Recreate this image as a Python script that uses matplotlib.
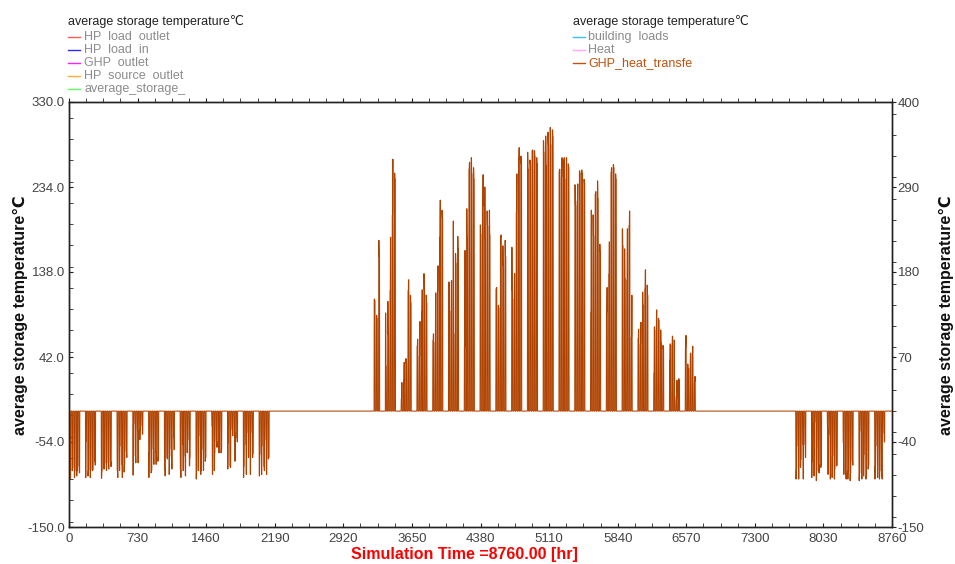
import numpy as np
import matplotlib
matplotlib.use("Agg")
import matplotlib.pyplot as plt
from matplotlib.lines import Line2D
from matplotlib.ticker import MultipleLocator, FixedLocator, FuncFormatter

plt.rcParams["font.family"] = ["Liberation Sans", "DejaVu Sans"]

# ---------------- data ----------------
x_ticks = [0, 730, 1460, 2190, 2920, 3650, 4380, 5110, 5840, 6570, 7300, 8030, 8760]
left_ticks = [330.0, 234.0, 138.0, 42.0, -54.0, -150.0]
right_ticks = [400, 290, 180, 70, -40, -150]

# first day (day of year) of each weekly cluster of operation
winter_early_days = [0, 7, 14, 21, 28, 35, 42, 49, 56, 63, 70, 77, 84]
winter_early_values = [
    [-86, -88, -77, -73, -86, -77, -84, -77, -71, -80],
    [-86, -39, -84, -77, -86, -76, -77, -75, -65, -70],
    [-87, -77, -75, -75, -67, -77, -67, -75, -65, -72],
    [-77, -86, -77, -45, -69, -86, -79, -69, -52, -60],
    [-83, -17, -58, -67, -26, -67, -37, -24, -19, -30],
    [-86, -54, -80, -77, -49, -69, -52, -69, -65, -60],
    [-75, -84, -60, -62, -82, -58, -49, -75, -34, -50],
    [-75, -86, -43, -77, -58, -84, -54, -37, -71, -60],
    [-88, -77, -77, -32, -82, -77, -49, -77, -65, -60],
    [-19, -82, -77, -54, -39, -47, -54, -54, -54, -50],
    [-75, -41, -71, -73, -24, -32, -28, -65, -34, -40],
    [-86, -71, -43, -82, -28, -60, -82, -28, -60, -55],
    [-84, -56, -82, -45, -71, -77, -37, -82, -62, -60],
]

summer_days = [135, 140, 147, 154, 161, 168, 175, 182, 189, 196, 203,
               210, 217, 224, 231, 238, 245, 252, 259, 266, 273]
summer_values = [
    [145, 143, 124, 120, 221, 200],
    [127, 58, 142, 99, 156, 225, 254, 326, 308, 300],
    [16, 37, 40, 63, 68, 62, 156, 170, 150, 140],
    [84, 93, 71, 116, 129, 157, 178, 157, 150, 140],
    [91, 100, 89, 153, 155, 188, 225, 273, 260, 250],
    [167, 167, 129, 169, 246, 100, 204, 191, 226, 210],
    [83, 208, 262, 226, 313, 322, 328, 307, 315, 300],
    [241, 229, 265, 306, 290, 223, 259, 240, 260, 228],
    [158, 160, 137, 133, 225, 228, 214, 188, 221, 200],
    [212, 156, 145, 178, 257, 307, 326, 341, 330, 320],
    [335, 313, 325, 320, 337, 338, 337, 330, 328, 320],
    [350, 335, 356, 318, 361, 345, 367, 345, 364, 355],
    [311, 313, 303, 328, 325, 328, 300, 328, 320, 315],
    [293, 266, 272, 294, 311, 308, 312, 307, 300, 295],
    [128, 260, 254, 227, 281, 284, 298, 275, 216, 206],
    [128, 160, 177, 219, 309, 315, 319, 315, 307, 300],
    [236, 214, 210, 171, 169, 236, 240, 259, 96, 150],
    [94, 106, 87, 115, 154, 137, 158, 183, 163, 150],
    [49, 109, 105, 131, 120, 117, 105, 88, 85, 80],
    [66, 87, 85, 97, 92, 19, 16, 40, 42, 40],
    [82, 98, 61, 55, 55, 75, 74, 84, 38, 45],
]

winter_late_days = [322, 329, 336, 343, 350, 357]
winter_late_values = [
    [-88, -75, -45, -88, -73, -62, -43, -88, -43, -60],
    [-86, -65, -84, -15, -90, -77, -69, -80, -73, -70],
    [-22, -82, -30, -88, -86, -58, -88, -75, -71, -70],
    [-41, -82, -80, -88, -88, -77, -90, -80, -65, -70],
    [-90, -80, -26, -88, -84, -56, -88, -84, -75, -70],
    [-88, -71, -45, -86, -88, -77, -84, -88, -28, -40],
]

legend_left = ["HP  load  outlet", "HP  load  in", "GHP  outlet",
               "HP  source  outlet", "average_storage_"]
legend_left_colors = ["#FF5A5A", "#2A2AFF", "#FF1EFF", "#FFAA3A", "#5CFF5C"]
legend_right = ["building  loads", "Heat", "GHP_heat_transfe"]
legend_right_colors = ["#35C0FF", "#FFA8FF", "#C0520F"]

# ---------------- hourly series ----------------
hours = np.arange(8761)
ghp = np.zeros(8761)
for starts, groups in ((winter_early_days, winter_early_values),
                       (summer_days, summer_values),
                       (winter_late_days, winter_late_values)):
    for d0, vals in zip(starts, groups):
        for i in range(len(vals) // 2):
            h0 = (d0 + i) * 24
            ghp[h0 + 8:h0 + 13] = vals[2 * i]
            ghp[h0 + 13:h0 + 18] = vals[2 * i + 1]

# ---------------- figure ----------------
W, H = 955, 564
fig = plt.figure(figsize=(W / 100, H / 100), dpi=100)
L, R, T, B = 69, 892, 102, 527
ax = fig.add_axes([L / W, 1 - B / H, (R - L) / W, (B - T) / H])
ax2 = ax.twinx()

ax.set_xlim(0, 8760)
ax.set_ylim(-150, 330)
ax2.set_ylim(-150, 400)

line_color = "#B04200"
ax2.plot(hours, ghp, color=line_color, lw=0.75, solid_joinstyle="miter")

spine_c = "#222222"
for a in (ax, ax2):
    for s in a.spines.values():
        s.set_color(spine_c)
        s.set_linewidth(1.0)

tick_c = "#444444"
ax.xaxis.set_major_locator(FixedLocator(x_ticks))
ax.xaxis.set_minor_locator(MultipleLocator(182.5))
ax.yaxis.set_major_locator(FixedLocator(left_ticks))
ax.yaxis.set_minor_locator(MultipleLocator(24))
ax.yaxis.set_major_formatter(FuncFormatter(lambda v, p: f"{v:.1f}"))
ax.tick_params(axis="x", which="both", direction="in", length=3, top=False,
               labelsize=9.5, labelcolor=tick_c, color=spine_c, pad=4)
ax.tick_params(axis="y", which="both", direction="in", length=3, right=False,
               labelsize=9.5, labelcolor=tick_c, color=spine_c, pad=3)

ax2.yaxis.set_major_locator(FixedLocator(right_ticks))
ax2.yaxis.set_minor_locator(MultipleLocator(27.5))
ax2.yaxis.set_major_formatter(FuncFormatter(lambda v, p: f"{v:.0f}"))
ax2.tick_params(axis="y", which="both", direction="out", length=3,
                labelsize=9.5, labelcolor=tick_c, color=spine_c, pad=1)

top = ax.secondary_xaxis("top")
top.xaxis.set_major_locator(FixedLocator(x_ticks))
top.xaxis.set_minor_locator(MultipleLocator(182.5))
top.tick_params(axis="x", which="both", direction="out", length=3,
                labeltop=False, color=spine_c)
top.spines["top"].set_visible(False)

# axis titles
fig.text(20 / W, 1 - 315 / H, "average storage temperature℃", rotation=90,
         ha="center", va="center", fontsize=11.5, fontweight="bold", color="#111111")
fig.text(946 / W, 1 - 315 / H, "average storage temperature℃", rotation=90,
         ha="center", va="center", fontsize=11.5, fontweight="bold", color="#111111")
fig.text(464 / W, 1 - 555 / H, "Simulation Time =8760.00 [hr]", ha="center",
         va="center", fontsize=11.5, fontweight="bold", color="#FF0000")

# legends
def px(x, y):
    return x / W, 1 - y / H

fig.text(*px(68, 21), "average storage temperature℃", ha="left", va="center",
         fontsize=9, color="#222222")
for i, (lab, c) in enumerate(zip(legend_left, legend_left_colors)):
    y = 37 + i * 12.9
    fig.add_artist(Line2D([68 / W, 80 / W], [1 - y / H, 1 - y / H], color=c, lw=1.0,
                          transform=fig.transFigure))
    fig.text(*px(84, y), lab, ha="left", va="center", fontsize=9, color="#8C8C8C")

fig.text(*px(573, 21), "average storage temperature℃", ha="left", va="center",
         fontsize=9, color="#222222")
for i, (lab, c) in enumerate(zip(legend_right, legend_right_colors)):
    y = 37 + i * 12.9
    fig.add_artist(Line2D([573 / W, 585 / W], [1 - y / H, 1 - y / H], color=c, lw=1.0,
                          transform=fig.transFigure))
    tc = c if lab.startswith("GHP") else "#8C8C8C"
    fig.text(*px(588, y), lab, ha="left", va="center", fontsize=9, color=tc)

fig.savefig("out.png", dpi=100, facecolor="white")
